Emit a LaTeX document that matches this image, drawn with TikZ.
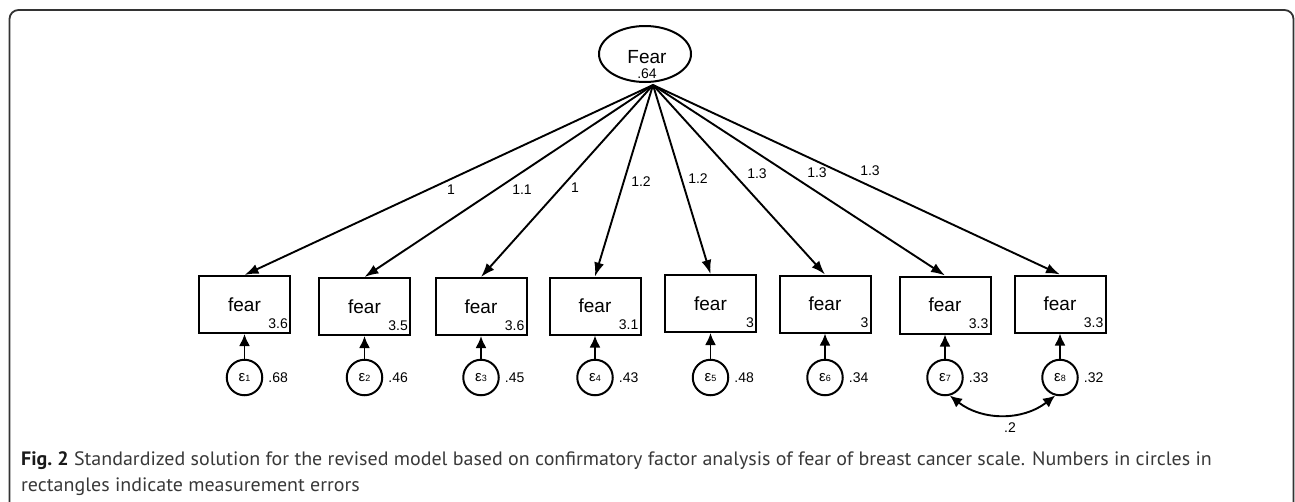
\documentclass[tikz,border=0pt]{standalone}
\usepackage{fontspec}
\setmainfont{Liberation Sans}
\newfontfamily\capfont[FakeStretch=1.03]{PT Sans}
\usetikzlibrary{arrows.meta,shapes.geometric}

\tikzset{
  ind/.style={draw, line width=2pt, minimum width=91pt, minimum height=57pt,
    inner sep=0pt, font=\fontsize{19}{22}\selectfont},
  errc/.style={draw, circle, line width=2pt, minimum size=35.5pt, inner sep=0pt,
    font=\fontsize{15}{15}\selectfont},
  latent/.style={draw, ellipse, line width=2pt, minimum width=92pt,
    minimum height=56pt, inner sep=0pt},
  num/.style={inner sep=0pt, font=\fontsize{14}{14}\selectfont},
  load/.style={line width=1.9pt, -{Latex[length=14pt,width=10pt]}},
  errarr/.style={line width=1.9pt, -{Latex[length=12pt,width=11pt]}},
  cov/.style={line width=1.9pt, {Latex[length=12pt,width=11pt]}-{Latex[length=12pt,width=11pt]}},
  frame/.style={line width=1.8pt, draw=black!80, rounded corners=9pt},
  captext/.style={inner sep=0pt, text=black!78, font=\capfont\fontsize{19.4}{22}\selectfont}
}

\begin{document}
\begin{tikzpicture}[x=1pt,y=1pt]
  \useasboundingbox (0,0) rectangle (1295,-501);
  % box round the figure, open at the bottom
  \draw[frame] (9.5,-520) -- (9.5,-10) -- (1293.5,-10) -- (1293.5,-520);

  % latent factor
  \node[latent] (F) at (645,-54) {};
  \node[font=\fontsize{19}{22}\selectfont, inner sep=0pt] (Fname) at (647,-57) {Fear};
  \node[num] (Fvar) at (647,-74) {.64};
  \coordinate (Fout) at (653,-85);

  % items, errors and loadings
  \foreach \i/\x/\y/\mn/\vr/\ld/\lx/\ly in {
      1/244.5/304.5/3.6/.68/1/451/190,
      2/364.5/306.5/3.5/.46/1.1/522/190,
      3/481/306.5/3.6/.45/1/575/188,
      4/595/306/3.1/.43/1.2/641/182,
      5/710.5/303.5/3/.48/1.2/698/179,
      6/825/304/3/.34/1.3/757/174,
      7/945/305/3.3/.33/1.3/817/173,
      8/1060/304/3.3/.32/1.3/870/171} {
    \node[ind] (f\i) at (\x,-\y) {fear};
    \node[num, anchor=base east] (m\i) at ([xshift=-3pt,yshift=6pt]f\i.south east) {\mn};
    \node[errc] (e\i) at (\x,-377.5) {ε{\fontsize{9}{9}\selectfont\i}};
    \node[num, anchor=west] (v\i) at ([xshift=5pt]e\i.east) {\vr};
    \draw[errarr] (e\i) -- (f\i);
    \draw[load] (Fout) -- (f\i.north);
    \node[num] (l\i) at (\lx,-\ly) {\ld};
  }

  % error covariance
  \draw[cov] (e7.285) to[bend right=38] (e8.255);
  \node[num] (c78) at (1010,-428) {.2};

  % caption
  \node[captext, anchor=base west] (cap1) at (21,-465)
    {{\bfseries\color{black!90}Fig.~2} Standardized solution for the revised model based on confirmatory factor analysis of fear of breast cancer scale. Numbers in circles in};
  \node[captext, anchor=base west] (cap2) at (21,-491)
    {rectangles indicate measurement errors};
\end{tikzpicture}
\end{document}
